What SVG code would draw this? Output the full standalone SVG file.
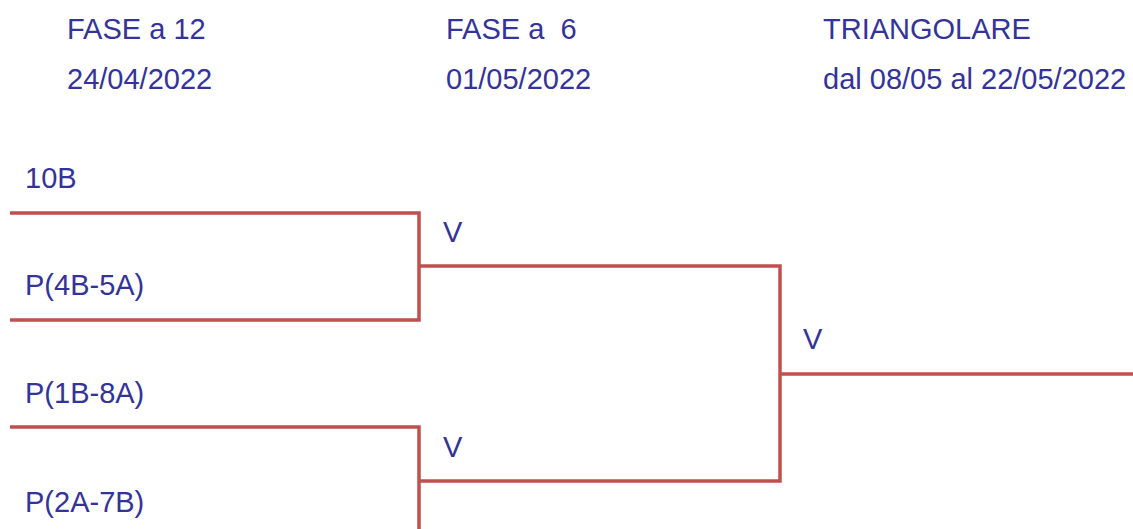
<svg xmlns="http://www.w3.org/2000/svg" width="1133" height="529" viewBox="0 0 1133 529">
<style>
text{font-family:"Liberation Sans",Arial,sans-serif;font-size:29px;fill:#333399;white-space:pre}
.c{fill:none;stroke:#C0504D;stroke-width:3.5;stroke-linecap:butt;stroke-linejoin:miter}
</style>
<rect width="1133" height="529" fill="#fff"/>
<g id="headers">
<text x="67" y="39">FASE a 12</text>
<text x="67" y="89">24/04/2022</text>
<text x="446" y="39" xml:space="preserve">FASE a  6</text>
<text x="446" y="89">01/05/2022</text>
<text x="823" y="39">TRIANGOLARE</text>
<text x="823" y="89">dal 08/05 al 22/05/2022</text>
</g>
<g id="connectors">
<path class="c" d="M10,213 H419 V320 H10"/>
<path class="c" d="M10,427 H419 V529"/>
<path class="c" d="M419,266 H780 V481 H419"/>
<path class="c" d="M780,374 H1133"/>
</g>
<g id="n-10B"><text x="25" y="188">10B</text></g>
<g id="n-P4B5A"><text x="25" y="295">P(4B-5A)</text></g>
<g id="n-P1B8A"><text x="25" y="403">P(1B-8A)</text></g>
<g id="n-P2A7B"><text x="25" y="512">P(2A-7B)</text></g>
<g id="n-V1"><text x="443" y="242">V</text></g>
<g id="n-V2"><text x="443" y="457">V</text></g>
<g id="n-V3"><text x="803" y="349">V</text></g>
</svg>
